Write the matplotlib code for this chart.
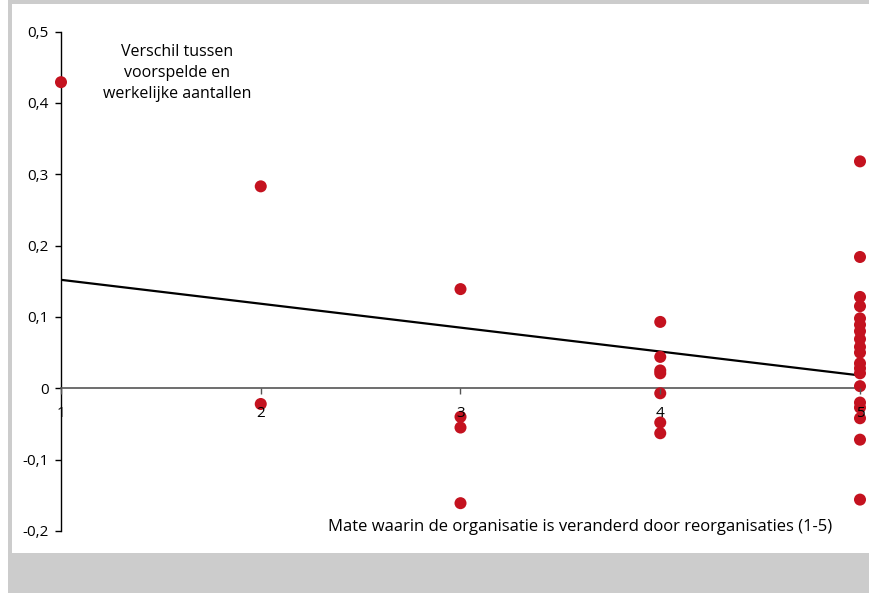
import matplotlib.pyplot as plt
from matplotlib.patches import Rectangle

plt.rcParams['font.family'] = ['Open Sans', 'DejaVu Sans']

# mate van reorganisatie (x) en verschil voorspeld/werkelijk (y)
x_vals = [1,
          2, 2,
          3, 3, 3, 3,
          4, 4, 4, 4, 4, 4, 4,
          5, 5, 5, 5, 5, 5, 5, 5, 5, 5, 5, 5, 5, 5, 5, 5, 5, 5, 5]
y_vals = [0.429,
          0.283, -0.022,
          0.139, -0.040, -0.055, -0.161,
          0.093, 0.044, 0.025, 0.021, -0.007, -0.048, -0.063,
          0.318, 0.184, 0.128, 0.115, 0.098, 0.089, 0.080, 0.069, 0.058, 0.050,
          0.035, 0.028, 0.021, 0.003, -0.020, -0.027, -0.042, -0.072, -0.156]

trend_x = [1, 5]
trend_y = [0.152, 0.018]

y_ticks = [-0.2, -0.1, 0, 0.1, 0.2, 0.3, 0.4, 0.5]
y_labels = ['-0,2', '-0,1', '0', '0,1', '0,2', '0,3', '0,4', '0,5']
x_ticks = [1, 2, 3, 4, 5]

W, H = 870, 593
fig = plt.figure(figsize=(W / 100, H / 100), dpi=100)
fig.patch.set_facecolor('white')
# grijze rand en wit paneel
fig.patches.append(Rectangle((8 / W, 0), 1, 1, transform=fig.transFigure,
                             facecolor='#cccccc', edgecolor='none', zorder=0))
fig.patches.append(Rectangle((12 / W, (H - 553) / H), 1, (553 - 4) / H,
                             transform=fig.transFigure,
                             facecolor='white', edgecolor='none', zorder=0))

ax = fig.add_axes([61 / W, (H - 531) / H, (860 - 61) / W, (531 - 31.5) / H])
ax.set_zorder(5)
ax.set_facecolor('none')

ax.plot(trend_x, trend_y, color='black', lw=1.6, zorder=3)
ax.scatter(x_vals, y_vals, s=75, color='#c4121f', edgecolors='none',
           zorder=4, clip_on=False)

ax.set_xlim(1, 5)
ax.set_ylim(-0.2, 0.5)
ax.set_yticks(y_ticks)
ax.set_yticklabels(y_labels)
ax.set_xticks(x_ticks)
ax.set_xticklabels([str(t) for t in x_ticks])

ax.spines['top'].set_visible(False)
ax.spines['right'].set_visible(False)
ax.spines['bottom'].set_position(('data', 0))
ax.spines['bottom'].set_color('#555555')
ax.spines['bottom'].set_linewidth(1.2)
ax.spines['left'].set_linewidth(1.0)

ax.tick_params(axis='y', length=4, width=1, pad=5, labelsize=11)
ax.tick_params(axis='x', length=4, width=1, pad=9, labelsize=11,
               color='#555555')
# x-labels boven de punten tekenen
ax.xaxis.set_zorder(6)

ax.text(0.145, 0.917, 'Verschil tussen\nvoorspelde en\nwerkelijke aantallen',
        transform=ax.transAxes, ha='center', va='center', fontsize=11.5,
        linespacing=1.4)
ax.text(0.965, 0.008,
        'Mate waarin de organisatie is veranderd door reorganisaties (1-5)',
        transform=ax.transAxes, ha='right', va='center', fontsize=12)

fig.savefig('out.png', dpi=100)
